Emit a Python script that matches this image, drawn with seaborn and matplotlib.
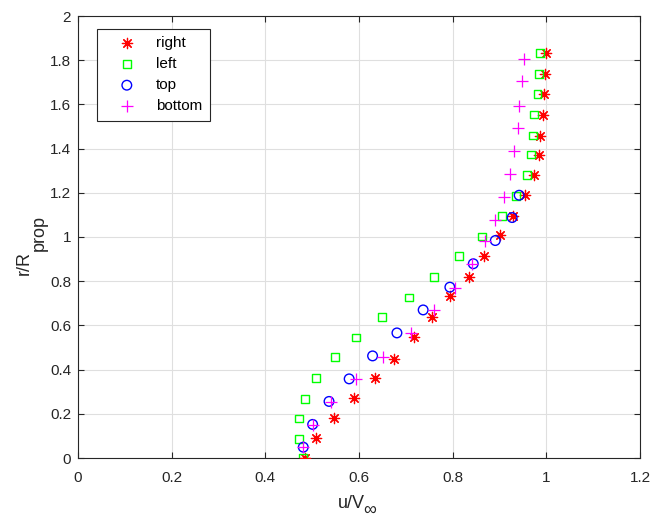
import matplotlib
matplotlib.use("Agg")
import matplotlib.pyplot as plt
import seaborn as sns
from matplotlib.ticker import FuncFormatter, MultipleLocator

# Velocity profiles u/V_inf against radial position r/R_prop on four sides
right_x = [0.484, 0.509, 0.546, 0.589, 0.634, 0.675, 0.718, 0.756, 0.794, 0.834, 0.866,
           0.900, 0.928, 0.954, 0.973, 0.985, 0.987, 0.992, 0.995, 0.998, 1.000]
right_y = [0.0, 0.09, 0.18, 0.27, 0.363, 0.45, 0.547, 0.637, 0.732, 0.82, 0.915,
           1.007, 1.095, 1.192, 1.279, 1.372, 1.459, 1.554, 1.648, 1.738, 1.832]

left_x = [0.481, 0.471, 0.471, 0.484, 0.509, 0.548, 0.594, 0.650, 0.706, 0.761, 0.814,
          0.862, 0.905, 0.936, 0.958, 0.968, 0.971, 0.973, 0.981, 0.984, 0.986]
left_y = [0.0, 0.087, 0.179, 0.268, 0.361, 0.456, 0.545, 0.639, 0.726, 0.82, 0.913,
          1.002, 1.095, 1.184, 1.279, 1.373, 1.459, 1.554, 1.648, 1.738, 1.832]

top_x = [0.481, 0.501, 0.536, 0.579, 0.629, 0.681, 0.737, 0.794, 0.844, 0.891, 0.927, 0.942]
top_y = [0.049, 0.152, 0.256, 0.358, 0.462, 0.566, 0.670, 0.773, 0.879, 0.984, 1.088, 1.189]

bottom_x = [0.481, 0.501, 0.541, 0.594, 0.652, 0.711, 0.760, 0.805, 0.841, 0.869, 0.891,
            0.909, 0.923, 0.931, 0.939, 0.942, 0.948, 0.953]
bottom_y = [0.049, 0.150, 0.253, 0.358, 0.458, 0.565, 0.670, 0.770, 0.876, 0.981, 1.078,
            1.183, 1.285, 1.391, 1.495, 1.592, 1.704, 1.805]

sns.set_theme(style="white")
plt.rcParams["font.family"] = ["Liberation Sans", "DejaVu Sans"]

ink = "#262626"

fig = plt.figure(figsize=(6.51, 5.20), dpi=100)
ax = fig.add_axes([78 / 651, 1 - 458 / 520, (640 - 78) / 651, (458 - 16) / 520])

asterisk = (8, 2, 0)
sns.scatterplot(x=right_x, y=right_y, marker=asterisk, s=55, color="#ff0000",
                linewidth=0.9, label="right", ax=ax, zorder=3)
sns.scatterplot(x=left_x, y=left_y, marker="s", s=32, facecolors="none",
                edgecolors="#00ff00", linewidths=1.0, label="left", ax=ax, zorder=3)
sns.scatterplot(x=top_x, y=top_y, marker="o", s=48, facecolors="none",
                edgecolors="#0000ff", linewidths=1.0, label="top", ax=ax, zorder=3)
sns.scatterplot(x=bottom_x, y=bottom_y, marker="+", s=75, color="#ff00ff",
                linewidth=0.9, label="bottom", ax=ax, zorder=3)

ax.set_xlim(0, 1.2)
ax.set_ylim(0, 2)
ax.xaxis.set_major_locator(MultipleLocator(0.2))
ax.yaxis.set_major_locator(MultipleLocator(0.2))
fmt = FuncFormatter(lambda v, p: f"{v:g}")
ax.xaxis.set_major_formatter(fmt)
ax.yaxis.set_major_formatter(fmt)

ax.grid(True, color="#dfdfdf", linewidth=0.8)
ax.set_axisbelow(True)
for sp in ax.spines.values():
    sp.set_visible(True)
    sp.set_color(ink)
    sp.set_linewidth(0.8)
ax.tick_params(direction="in", length=4, width=0.8, color=ink, labelcolor=ink,
               labelsize=11, top=True, right=True, bottom=True, left=True)
ax.tick_params(axis="x", pad=9)
ax.tick_params(axis="y", pad=5)

# Axis labels with full-size, lowered subscripts
ax.set_xlabel("u/V", fontsize=13, color=ink)
ax.xaxis.set_label_coords(0.4866, -0.0845)
ax.annotate("\u221e", xy=(1, 0), xycoords=ax.xaxis.label, xytext=(-1, 7.5),
            textcoords="offset points", ha="left", va="top", fontsize=13, color=ink,
            annotation_clip=False)

ax.set_ylabel("r/R", fontsize=13, color=ink)
ax.yaxis.set_label_coords(-0.080, 0.441)
ax.annotate("prop", xy=(1, 1), xycoords=ax.yaxis.label, xytext=(-1.5, 0),
            textcoords="offset points", ha="left", va="bottom", rotation=90,
            fontsize=13, color=ink, annotation_clip=False)

leg = ax.legend(loc="upper left", bbox_to_anchor=(0.034, 0.971), borderaxespad=0,
                frameon=True, fancybox=False, framealpha=1, edgecolor=ink,
                fontsize=11, handlelength=2.93, handletextpad=0.44, labelspacing=0.46,
                borderpad=0.48, scatterpoints=1)
leg.get_frame().set_linewidth(0.8)
for t in leg.get_texts():
    t.set_color("black")

fig.savefig("out.png", dpi=100)
